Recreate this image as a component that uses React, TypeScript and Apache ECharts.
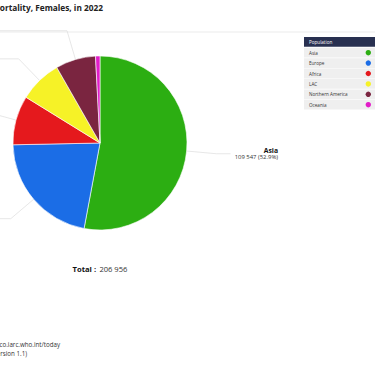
import React, { useEffect, useRef } from "react";
import * as echarts from "echarts";

const categories = ["Asia", "Europe", "Africa", "LAC", "Northern America", "Oceania"];
const deaths = [109547, 45000, 18900, 16400, 15400, 1709];
const colors = ["#2cae12", "#1b6de6", "#e5191d", "#f6f227", "#7a2540", "#e21dc8"];
const totalDeaths = 206956;
const titleText = "Absolute numbers, Mortality, Females, in 2022";
const legendTitle = "Population";
const sourceLines = [
  "Cancer TODAY | IARC - https://gco.iarc.who.int/today",
  "Data version : Globocan 2022 (version 1.1)",
];

const L = 300;
const W = L + 375;
const H = 366;
const FONT = "'Open Sans', sans-serif";

const fmt = (n: number) => String(n).replace(/\B(?=(\d{3})+(?!\d))/g, " ");

export default function App() {
  const ref = useRef<HTMLDivElement>(null);
  useEffect(() => {
    if (!ref.current) return;
    const chart = echarts.init(ref.current, undefined, { renderer: "svg" });
    const X = (v: number) => v + L;
    const graphics: any[] = [
      { type: "line", shape: { x1: 0, y1: 32, x2: W, y2: 32 }, style: { stroke: "#e6e6e6", lineWidth: 0.8 }, silent: true },
      {
        type: "text", x: X(103), y: 7,
        style: { text: titleText, fill: "#222", fontSize: 8.3, fontWeight: "bold", fontFamily: FONT, align: "right", verticalAlign: "middle" },
      },
      { type: "rect", shape: { x: X(304), y: 37, width: 71, height: 9.8 }, style: { fill: "#283050" } },
      {
        type: "text", x: X(309), y: 42,
        style: { text: legendTitle, fill: "#fff", fontSize: 4.6, fontFamily: FONT, verticalAlign: "middle" },
      },
      {
        type: "text", x: X(100), y: 269,
        style: {
          text: `{b|Total :} {v|${fmt(totalDeaths)}}`,
          align: "center", verticalAlign: "middle",
          rich: {
            b: { fontSize: 7.6, fontWeight: "bold", fill: "#111", fontFamily: FONT },
            v: { fontSize: 7.6, fill: "#333", fontFamily: FONT },
          },
        },
      },
    ];
    categories.forEach((c, i) => {
      const cy = 52.7 + i * 10.4;
      graphics.push({ type: "rect", shape: { x: X(304), y: cy - 4.9, width: 71, height: 9.8 }, style: { fill: "#efefef" } });
      graphics.push({
        type: "text", x: X(309), y: cy,
        style: { text: c, fill: "#333", fontSize: 4.6, fontFamily: FONT, verticalAlign: "middle" },
      });
      graphics.push({ type: "circle", shape: { cx: X(368.3), cy, r: 2.7 }, style: { fill: colors[i] } });
    });
    sourceLines.forEach((t, i) => {
      graphics.push({
        type: "text", x: X(i === 0 ? 60 : 27), y: 344 + i * 9,
        style: { text: t, fill: "#333", fontSize: 6.2, fontFamily: FONT, align: "right", verticalAlign: "middle" },
      });
    });

    chart.setOption({
      animation: false,
      backgroundColor: "#fff",
      graphic: graphics,
      series: [
        {
          type: "pie",
          center: [X(100), 143],
          radius: 87,
          startAngle: 90,
          avoidLabelOverlap: false,
          itemStyle: { borderColor: "#fff", borderWidth: 0.6 },
          label: {
            show: true,
            position: "outside",
            alignTo: "edge",
            edgeDistance: 97,
            formatter: (p: any) => `{n|${p.name}}\n{v|${fmt(p.value)} (${p.percent.toFixed(1)}%)}`,
            rich: {
              n: { fontFamily: FONT, fontSize: 6.8, fontWeight: "bold", color: "#111", lineHeight: 7 },
              v: { fontFamily: FONT, fontSize: 5.9, color: "#333", lineHeight: 7 },
            },
          },
          labelLine: { show: true, length: 30, length2: 120, lineStyle: { color: "#dcdcdc", width: 0.7 } },
          emphasis: { disabled: true },
          data: categories.map((c, i) => ({
            name: c,
            value: deaths[i],
            itemStyle: { color: colors[i] },
            labelLine: i === 0 ? { length2: 14 } : i === 5 ? { length: 32 } : {},
          })),
        },
      ],
    });
    return () => chart.dispose();
  }, []);
  return <div ref={ref} style={{ position: "absolute", left: -L, top: 0, width: W, height: H }} />;
}
